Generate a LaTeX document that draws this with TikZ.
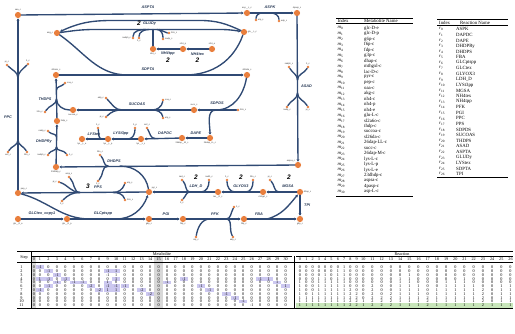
\documentclass[tikz,border=0pt]{standalone}
\usepackage{fontspec}
\setmainfont{Liberation Serif}
\newfontfamily\mapfont{Liberation Sans}
\usetikzlibrary{arrows.meta}
\definecolor{rxnblue}{RGB}{48,74,116}
\definecolor{metorange}{RGB}{233,127,61}
\definecolor{hlpurple}{RGB}{204,200,240}
\definecolor{hlgreen}{RGB}{200,230,186}
\definecolor{bandgray}{RGB}{216,216,216}
\tikzset{
	met/.style={circle,fill=metorange,inner sep=0pt,minimum size=6.2pt},
	cof/.style={circle,fill=metorange,inner sep=0pt,minimum size=2.8pt},
	rxn/.style={draw=rxnblue,line width=1.35pt,line cap=round},
	prod/.style={rxn,-{Stealth[length=2.6pt,width=2.8pt]}},
	rlab/.style={font=\mapfont\fontsize{3.8}{3.8}\selectfont\bfseries\itshape,text=rxnblue!70!black,inner sep=0pt},
	cnt/.style={font=\mapfont\fontsize{6.5}{6.5}\selectfont\bfseries\itshape,inner sep=0pt},
	mlab/.style={font=\mapfont\fontsize{2.2}{2.2}\selectfont,text=black!80,inner sep=0.4pt},
	tcell/.style={font=\fontsize{4.8}{4.8}\selectfont,inner sep=0pt,anchor=west},
	scell/.style={font=\fontsize{4.2}{4.2}\selectfont,inner sep=0pt},
	thickrule/.style={line width=0.6pt},
	thinrule/.style={line width=0.3pt},
}

\begin{document}
\begin{tikzpicture}[x=1pt,y=-1pt]
	\fill[white] (0,0) rectangle (515,334);
	\useasboundingbox (0,0) rectangle (515,334);

	% metabolites
	\node[met, label={[mlab]above:oaa\_c}] (oaa) at (18,15) {};
	\node[met, label={[mlab]above:asp\_\_L\_c}] (asp) at (247,13) {};
	\node[met, label={[mlab]above:4pasp\_c}] (pasp) at (297,13) {};
	\node[met, label={[mlab]left:akg\_c}] (akg) at (57,33) {};
	\node[met, label={[mlab]right:glu\_\_L\_c}] (glu) at (244,32) {};
	\node[met, label={[mlab]below:nh4\_c}] (nh4c) at (153,49) {};
	\node[met, label={[mlab]above:nh4\_p}] (nh4p) at (183,49) {};
	\node[met, label={[mlab]above:nh4\_e}] (nh4e) at (212,49) {};
	\node[met, label={[mlab]above:sl2a6o\_c}] (slao) at (56,75) {};
	\node[met, label={[mlab]above:sl26da\_c}] (slda) at (247,75) {};
	\node[met, label={[mlab]below:succoa\_c}] (succoa) at (73,110) {};
	\node[met, label={[mlab]above:succ\_c}] (succ) at (194,110) {};
	\node[met, label={[mlab]right:thdp\_c}] (thdp) at (57,121) {};
	\node[met, label={[mlab]below:lys\_\_L\_e}] (lysE) at (82,139) {};
	\node[met, label={[mlab]below:lys\_\_L\_p}] (lysP) at (108,139) {};
	\node[met, label={[mlab]below:lys\_\_L\_c}] (lysC) at (141,139) {};
	\node[met, label={[mlab]below:26dap\_\_M\_c}] (dapM) at (182,138) {};
	\node[met, label={[mlab]below:26dap\_LL\_c}] (dapLL) at (210,138) {};
	\node[met, label={[mlab]below:23dhdp\_c}] (dhdp) at (56,167) {};
	\node[met, label={[mlab]above left:aspsa\_c}] (aspsa) at (298,165) {};
	\node[met, label={[mlab]above right:pep\_c}] (pep) at (18,193) {};
	\node[met, label={[mlab]above right:pyr\_c}] (pyr) at (149,192) {};
	\node[met, label={[mlab]below:lac\_\_D\_c}] (lac) at (218,192) {};
	\node[met, label={[mlab]below:mthgxl\_c}] (mthgxl) at (263,192) {};
	\node[met, label={[mlab]right:dhap\_c}] (dhap) at (300,192) {};
	\node[met, label={[mlab]below:glc\_\_D\_e}] (glcE) at (18,219) {};
	\node[met, label={[mlab]below:glc\_\_D\_p}] (glcP) at (67,219) {};
	\node[met, label={[mlab]below:g6p\_c}] (g6p) at (149,219) {};
	\node[met, label={[mlab]below:f6p\_c}] (f6p) at (183,219) {};
	\node[met, label={[mlab]below:fdp\_c}] (fdp) at (244,219) {};
	\node[met, label={[mlab]below:g3p\_c}] (g3p) at (300,219) {};

	% cofactors
	\node[cof, label={[mlab]above:pi\_c}] (piA1) at (7,65) {};
	\node[cof, label={[mlab]above:h\_c}] (hA1) at (28,64) {};
	\node[cof, label={[mlab]below:co2\_c}] (co2A1) at (8,152) {};
	\node[cof, label={[mlab]below:h2o\_c}] (h2oA1) at (27,152) {};
	\node[cof, label={[mlab]left:nadph\_c}] (nadphG) at (133,38) {};
	\node[cof, label={[mlab]below:h\_c}] (hG) at (139,38) {};
	\node[cof, label={[mlab]right:nadp\_c}] (nadpG) at (163,39) {};
	\node[cof, label={[mlab]right:h2o\_c}] (h2oG) at (169,33) {};
	\node[cof, label={[mlab]right:atp\_c}] (atpK) at (256,20) {};
	\node[cof, label={[mlab]right:adp\_c}] (adpK) at (279,21) {};
	\node[cof, label={[mlab]above:nadph\_c}] (nadphA) at (289,67) {};
	\node[cof, label={[mlab]above:h\_c}] (hA) at (308,67) {};
	\node[cof, label={[mlab]below:nadp\_c}] (nadpA) at (287,107) {};
	\node[cof, label={[mlab]below:pi\_c}] (piA) at (308,107) {};
	\node[cof, label={[mlab]above:h2o\_c}] (h2oS) at (100,155) {};
	\node[cof, label={[mlab]below:h\_c}] (hS) at (98,181) {};
	\node[cof, label={[mlab]left:nadph\_c}] (nadphD) at (48,155) {};
	\node[cof, label={[mlab]right:h\_c}] (hD) at (67,155) {};
	\node[cof, label={[mlab]left:nadp\_c}] (nadpD) at (48,131) {};
	\node[cof, label={[mlab]left:h2o\_c}] (h2oT) at (45,112) {};
	\node[cof, label={[mlab]right:coa\_c}] (coaT) at (65,83) {};
	\node[cof, label={[mlab]right:h2o\_c}] (h2oP) at (238,110) {};
	\node[cof, label={[mlab]right:coa\_c}] (coaS) at (163,100) {};
	\node[cof, label={[mlab]right:atp\_c}] (atpS) at (163,118) {};
	\node[cof, label={[mlab]left:adp\_c}] (adpS) at (106,98) {};
	\node[cof, label={[mlab]left:pi\_c}] (piS) at (106,117) {};
	\node[cof, label={[mlab]above:co2\_c}] (co2D) at (147,128) {};
	\node[cof, label={[mlab]above:h\_p}] (hL) at (135,128) {};
	\node[cof, label={[mlab]above:h\_c}] (hE) at (98,128) {};
	\node[cof, label={[mlab]right:atp\_c}] (atpP) at (125,183) {};
	\node[cof, label={[mlab]right:h2o\_c}] (h2oPP) at (125,200) {};
	\node[cof, label={[mlab]above:amp\_c}] (ampP) at (69,177) {};
	\node[cof, label={[mlab]left:pi\_c}] (piP) at (59,182) {};
	\node[cof, label={[mlab]below:h\_c}] (hP) at (62,201) {};
	\node[cof, label={[mlab]below:atp\_c}] (atpF) at (196,237) {};
	\node[cof, label={[mlab]right:h\_c}] (hF) at (234,207) {};
	\node[cof, label={[mlab]below:adp\_c}] (adpF) at (233,237) {};
	\node[cof, label={[mlab]above:pi\_c}] (piM) at (270,180) {};
	\node[cof, label={[mlab]above:h2o\_c}] (h2oY) at (253,180) {};
	\node[cof, label={[mlab]above:h\_c}] (hY) at (227,180) {};
	\node[cof, label={[mlab]above:nadh\_c}] (nadhL) at (209,180) {};
	\node[cof, label={[mlab]above:nad\_c}] (nadL) at (182,180) {};
	\node[cof, label={[mlab]below:h\_c}] (hL2) at (182,200) {};

	% reactions
	\draw[prod] (pep) -- (oaa);
	\draw[rxn] (co2A1) to[out=60,in=-90] (18,140);
	\draw[rxn] (h2oA1) to[out=120,in=-90] (18,140);
	\draw[rxn] (18,78) to[out=90,in=-45] (piA1);
	\draw[rxn] (18,78) to[out=90,in=-135] (hA1);

	\draw[prod] (oaa) -- (asp);
	\draw[prod] (glu) to[out=155,in=0] (200,20.5) -- (112,20.5) to[out=180,in=25] (akg);

	\draw[prod] (akg) to[out=8,in=180] (95,29.5) -- (205,29.5) to[out=0,in=170] (glu);
	\draw[rxn] (nh4c) -- (153,29.5);
	\draw[rxn] (nadphG) to[out=90,in=180] (146,29.5);
	\draw[rxn] (hG) to[out=90,in=180] (149,29.5);
	\draw[rxn] (157,29.5) to[out=0,in=90] (nadpG);
	\draw[rxn] (159,29.5) to[out=0,in=180] (h2oG);

	\draw[prod] (asp) -- (pasp);
	\draw[rxn] (atpK) to[out=90,in=180] (262,13);
	\draw[rxn] (271,13) to[out=0,in=90] (adpK);

	\draw[prod] (pasp) -- (aspsa);
	\draw[rxn] (nadphA) to[out=-60,in=90] (297.5,80);
	\draw[rxn] (hA) to[out=-120,in=90] (297.5,80);
	\draw[rxn] (297.5,93) to[out=-90,in=60] (nadpA);
	\draw[rxn] (297.5,93) to[out=-90,in=120] (piA);

	\draw[prod] (aspsa) -- (dhdp);
	\draw[rxn] (pyr) to[out=100,in=0] (120,166);
	\draw[rxn] (108,166) to[out=180,in=-45] (h2oS);
	\draw[rxn] (108,166) to[out=180,in=45] (hS);

	\draw[prod] (dhdp) -- (thdp);
	\draw[rxn] (nadphD) to[out=60,in=-90] (56.5,147);
	\draw[rxn] (hD) to[out=120,in=-90] (56.5,147);
	\draw[rxn] (56.5,137) to[out=90,in=-45] (nadpD);

	\draw[prod] (thdp) -- (slao);
	\draw[rxn] (succoa) to[out=180,in=-90] (56.5,99);
	\draw[rxn] (h2oT) to[out=60,in=-90] (56.5,99);
	\draw[rxn] (56.5,90) to[out=90,in=-135] (coaT);

	\draw[prod] (slao) -- (slda);
	\draw[rxn] (glu) to[out=-110,in=0] (185,75);
	\draw[rxn] (akg) to[out=-35,in=180] (128,75);

	\draw[rxn] (slda) to[out=-100,in=0] (216,110);
	\draw[prod] (216,110) -- (succ);
	\draw[rxn] (h2oP) -- (216,110);
	\draw[prod] (216,110) to[out=180,in=90] (dapLL);

	\draw[prod] (succ) -- (succoa);
	\draw[rxn] (coaS) to[out=-100,in=0] (152,110);
	\draw[rxn] (atpS) to[out=100,in=0] (152,110);
	\draw[rxn] (122,110) to[out=180,in=-45] (adpS);
	\draw[rxn] (122,110) to[out=180,in=45] (piS);

	\draw[prod] (nh4e) -- (nh4p);
	\draw[prod] (nh4p) -- (nh4c);

	\draw[prod] (dapLL) -- (dapM);
	\draw[prod] (dapM) -- (lysC);
	\draw[rxn] (155,138.5) to[out=180,in=-60] (co2D);
	\draw[prod] (lysC) -- (lysP);
	\draw[rxn] (hL) to[out=-90,in=0] (128,139);
	\draw[prod] (lysP) -- (lysE);
	\draw[rxn] (102,139) to[out=180,in=-80] (hE);

	\draw[prod] (pyr) -- (pep);
	\draw[rxn] (atpP) to[out=-110,in=0] (113,192.5);
	\draw[rxn] (h2oPP) to[out=110,in=0] (113,192.5);
	\draw[rxn] (80,192.5) to[out=180,in=-45] (ampP);
	\draw[rxn] (80,192.5) to[out=180,in=-20] (piP);
	\draw[rxn] (80,192.5) to[out=180,in=45] (hP);

	\draw[prod] (glcE) -- (glcP);
	\draw[prod] (glcP) -- (g6p);
	\draw[rxn] (pep) to[out=-15,in=180] (90,219);
	\draw[prod] (116,219) to[out=0,in=-110] (pyr);

	\draw[prod] (g6p) -- (f6p);
	\draw[prod] (f6p) -- (fdp);
	\draw[rxn] (atpF) to[out=80,in=180] (210,219);
	\draw[rxn] (226,219) to[out=0,in=-120] (hF);
	\draw[rxn] (226,219) to[out=0,in=120] (adpF);

	\draw[prod] (fdp) -- (g3p);
	\draw[prod] (267,219) to[out=15,in=-130] (dhap);
	\draw[prod] (dhap) -- (g3p);

	\draw[prod] (dhap) -- (mthgxl);
	\draw[rxn] (279,192) to[out=180,in=-45] (piM);
	\draw[prod] (mthgxl) -- (lac);
	\draw[rxn] (h2oY) to[out=-90,in=0] (246,192);
	\draw[rxn] (235,192) to[out=180,in=-90] (hY);
	\draw[prod] (lac) -- (pyr);
	\draw[rxn] (nadhL) to[out=-90,in=0] (201,192);
	\draw[rxn] (190,192) to[out=180,in=-45] (nadL);
	\draw[rxn] (190,192) to[out=180,in=45] (hL2);

	% reaction labels
	\node[rlab] (lPPC) at (8,117) {PPC};
	\node[rlab] (lASPTA) at (148,7) {ASPTA};
	\node[cnt] (nGLUDy) at (139,23.5) {2};
	\node[rlab, anchor=west] (lGLUDy) at (143,23.5) {GLUDy};
	\node[rlab] (lASPK) at (270,7) {ASPK};
	\node[rlab, anchor=west] (lASAD) at (301,86) {ASAD};
	\node[rlab] (lDHDPS) at (114,161) {DHDPS};
	\node[rlab] (lDHDPRy) at (44,142) {DHDPRy};
	\node[rlab] (lTHDPS) at (45,99) {THDPS};
	\node[rlab] (lSDPTA) at (148,69) {SDPTA};
	\node[rlab] (lSDPDS) at (217,103) {SDPDS};
	\node[rlab] (lSUCOAS) at (137,104) {SUCOAS};
	\node[rlab] (lNH4tex) at (197.5,54) {NH4tex};
	\node[cnt] (nNH4tex) at (197.5,60) {2};
	\node[rlab] (lNH4tpp) at (168,54) {NH4tpp};
	\node[cnt] (nNH4tpp) at (168,60) {2};
	\node[rlab] (lDAPE) at (196,133) {DAPE};
	\node[rlab] (lDAPDC) at (165,133) {DAPDC};
	\node[rlab] (lLYSt3pp) at (121,134) {LYSt3pp};
	\node[rlab] (lLYStex) at (94,134) {LYStex};
	\node[cnt] (nPPS) at (88,186.5) {3};
	\node[rlab] (lPPS) at (98,187) {PPS};
	\node[rlab] (lGLCptspp) at (103,214) {GLCptspp};
	\node[rlab] (lGLCtex) at (42,214) {GLCtex\_copy1};
	\node[rlab] (lPGI) at (166,214) {PGI};
	\node[rlab] (lPFK) at (215,214) {PFK};
	\node[rlab] (lFBA) at (259,214) {FBA};
	\node[rlab, anchor=west] (lTPI) at (304,205) {TPI};
	\node[cnt] (nMGSA) at (289,177.5) {2};
	\node[rlab] (lMGSA) at (288,186) {MGSA};
	\node[cnt] (nGLYOX3) at (241,177.5) {2};
	\node[rlab] (lGLYOX3) at (241,186) {GLYOX3};
	\node[cnt] (nLDH) at (196,177.5) {2};
	\node[rlab] (lLDH) at (196,186) {LDH\_D};

	% metabolite index table
	\draw[thickrule] (336,18.3) -- (413,18.3);
	\node[tcell] (mhIdx) at (337.5,20.9) {Index};
	\node[tcell] (mhName) at (364,20.9) {Metabolite Name};
	\draw[thinrule] (336,23.6) -- (413,23.6);
	\foreach \mname [count=\i from 0] in {glc-D-e,glc-D-p,g6p-c,f6p-c,fdp-c,g3p-c,dhap-c,mthgxl-c,lac-D-c,pyr-c,pep-c,oaa-c,akg-c,nh4-c,nh4-p,nh4-e,glu-L-c,sl2a6o-c,thdp-c,succoa-c,sl26da-c,26dap-LL-c,succ-c,26dap-M-c,lys-L-c,lys-L-p,lys-L-e,23dhdp-c,aspsa-c,4pasp-c,asp-L-c} {
		\node[tcell] (mi\i) at (337.5,28.3+5.45*\i) {\textit{m}\textsubscript{\i}};
		\node[tcell] (mn\i) at (364,28.3+5.45*\i) {\mname};
	}
	\draw[thickrule] (336,196.6) -- (413,196.6);

	% reaction index table
	\draw[thickrule] (437,19.8) -- (508,19.8);
	\node[tcell] (rhIdx) at (439,22.6) {Index};
	\node[tcell] (rhName) at (460,22.6) {Reaction Name};
	\draw[thinrule] (437,25.3) -- (508,25.3);
	\foreach \rname [count=\i from 0] in {ASPK,DAPDC,DAPE,DHDPRy,DHDPS,FBA,GLCptspp,GLCtex,GLYOX3,LDH\_D,LYSt3pp,MGSA,NH4tex,NH4tpp,PFK,PGI,PPC,PPS,SDPDS,SUCOAS,THDPS,ASAD,ASPTA,GLUDy,LYStex,SDPTA,TPI} {
		\node[tcell] (ri\i) at (439,29.3+5.57*\i) {\textit{r}\textsubscript{\i}};
		\node[tcell] (rn\i) at (456,29.3+5.57*\i) {\rname};
	}
	\draw[thickrule] (437,177.6) -- (508,177.6);

	% step table
	\fill[bandgray] (31.3,257) rectangle (36.3,308.5);
	\fill[bandgray] (154.4,257) rectangle (162.8,308.5);
	\fill[hlgreen] (296,303.2) rectangle (513,307.6);
	\foreach \s/\c in {1/1,2/2,2/9,2/10,3/3,4/1,4/2,4/4,4/10,4/18,4/27,4/28,5/3,5/5,5/6,5/9,5/16,5/29,6/2,6/7,6/9,6/10,6/11,6/20,6/30,7/1,7/8,7/9,7/10,7/13,7/21,8/14,8/23,9/24,10/25} {
		\pgfmathsetmacro\xx{40+8.47*(\c-1)}
		\fill[hlpurple] (\xx-4.2,267.3+3.8*\s-3.8-1.9) rectangle (\xx+4.2,267.3+3.8*\s-3.8+1.9);
	}
	\draw[thickrule] (17,251) -- (513,251);
	\node[scell] (hStep) at (24,257.5) {Step};
	\node[scell] (hMet) at (162,253.8) {Metabolite};
	\node[scell] (hRxn) at (402,253.8) {Reaction};
	\draw[thinrule] (31,256.4) -- (292,256.4);
	\draw[thinrule] (296,256.4) -- (513,256.4);
	\draw[thinrule] (17,262) -- (513,262);
	\draw[thinrule] (31,251) -- (31,308.8);
	\draw[thinrule] (294,256.4) -- (294,308.8);
	\draw[thickrule] (17,308.8) -- (513,308.8);
	\foreach \c in {0,...,30} {
		\pgfmathsetmacro\xx{\c==0 ? 33.8 : 40+8.47*(\c-1)}
		\node[scell] (mh\c) at (\xx,259.6) {\c};
	}
	\foreach \c in {0,...,26} {
		\pgfmathsetmacro\xx{\c<10 ? 300+6.3*\c : 363.3+9.2*(\c-10)}
		\node[scell] (rh\c) at (\xx,259.6) {\c};
	}
	\foreach \row [count=\s] in {
		{0,-1,0,0,0,0,0,0,0,0,0,0,0,0,0,0,0,0,0,0,0,0,0,0,0,0,0,0,0,0,0},
		{0,0,-1,0,0,0,0,0,0,-1,1,0,0,0,0,0,0,0,0,0,0,0,0,0,0,0,0,0,0,0,0},
		{0,0,0,-1,0,0,0,0,0,-1,1,0,0,0,0,0,0,0,0,0,0,0,0,0,0,0,0,0,0,0,0},
		{0,1,-1,0,-1,0,0,0,0,0,1,0,0,0,0,0,0,0,-1,0,0,0,0,0,0,0,0,-1,1,0,0},
		{0,0,0,-1,0,-1,-1,0,0,1,0,0,0,0,0,0,-1,0,0,0,0,0,0,0,0,0,0,0,0,1,0},
		{0,0,-1,0,0,0,0,-2,0,-1,-1,-1,0,0,0,0,0,0,0,0,-1,0,0,0,0,0,0,0,0,0,1},
		{0,-1,0,0,0,0,0,0,-2,1,1,0,0,-2,0,0,0,0,0,0,0,-1,0,0,0,0,0,0,0,0,0},
		{0,0,0,0,0,0,0,0,0,0,0,0,0,0,-2,0,0,0,0,0,0,0,0,-1,0,0,0,0,0,0,0},
		{0,0,0,0,0,0,0,0,0,0,0,0,0,0,0,0,0,0,0,0,0,0,0,0,-1,0,0,0,0,0,0},
		{0,0,0,0,0,0,0,0,0,0,0,0,0,0,0,0,0,0,0,0,0,0,0,0,0,-1,0,0,0,0,0},
		{0,0,0,0,0,0,0,0,0,0,0,0,0,0,0,0,0,0,0,0,0,0,0,0,0,0,-1,0,0,0,0}} {
		\node[scell] (st\s) at (21.5,267.3+3.8*\s-3.8) {\s};
		\foreach \v [count=\c from 0] in \row {
			\pgfmathsetmacro\xx{\c==0 ? 33.8 : 40+8.47*(\c-1)}
			\node[scell] (mv\s-\c) at (\xx,267.3+3.8*\s-3.8) {\v};
		}
	}
	\foreach \row [count=\s] in {
		{0,0,0,0,0,0,0,1,0,0,0,0,0,0,0,0,0,0,0,0,0,0,0,0,0,0,0},
		{0,0,0,0,0,0,1,1,0,0,0,0,0,0,0,0,0,0,0,0,0,0,0,0,0,0,0},
		{0,0,0,0,1,0,1,1,0,0,0,0,0,0,0,1,0,0,0,0,0,0,0,0,0,0,0},
		{0,0,0,1,1,0,1,1,0,0,0,0,0,0,1,1,0,0,0,0,0,1,0,0,0,0,0},
		{1,0,0,1,1,1,1,1,0,0,0,0,0,0,1,1,0,0,0,1,1,1,0,0,0,0,0},
		{1,0,0,1,1,1,1,1,0,0,0,2,0,0,1,1,1,0,0,1,1,1,1,0,0,1,1},
		{1,0,0,1,1,1,1,1,2,0,0,2,0,0,1,1,1,0,1,1,1,1,1,2,0,1,1},
		{1,0,1,1,1,1,1,1,2,2,0,2,0,2,1,1,1,0,1,1,1,1,1,2,0,1,1},
		{1,1,1,1,1,1,1,1,2,2,0,2,2,2,1,1,1,2,1,1,1,1,1,2,0,1,1},
		{1,1,1,1,1,1,1,1,2,2,1,2,2,2,1,1,1,2,1,1,1,1,1,2,0,1,1},
		{1,1,1,1,1,1,1,1,2,2,1,2,2,2,1,1,1,2,1,1,1,1,1,2,1,1,1}} {
		\foreach \v [count=\c from 0] in \row {
			\pgfmathsetmacro\xx{\c<10 ? 300+6.3*\c : 363.3+9.2*(\c-10)}
			\node[scell] (rv\s-\c) at (\xx,267.3+3.8*\s-3.8) {\v};
		}
	}
\end{tikzpicture}
\end{document}
